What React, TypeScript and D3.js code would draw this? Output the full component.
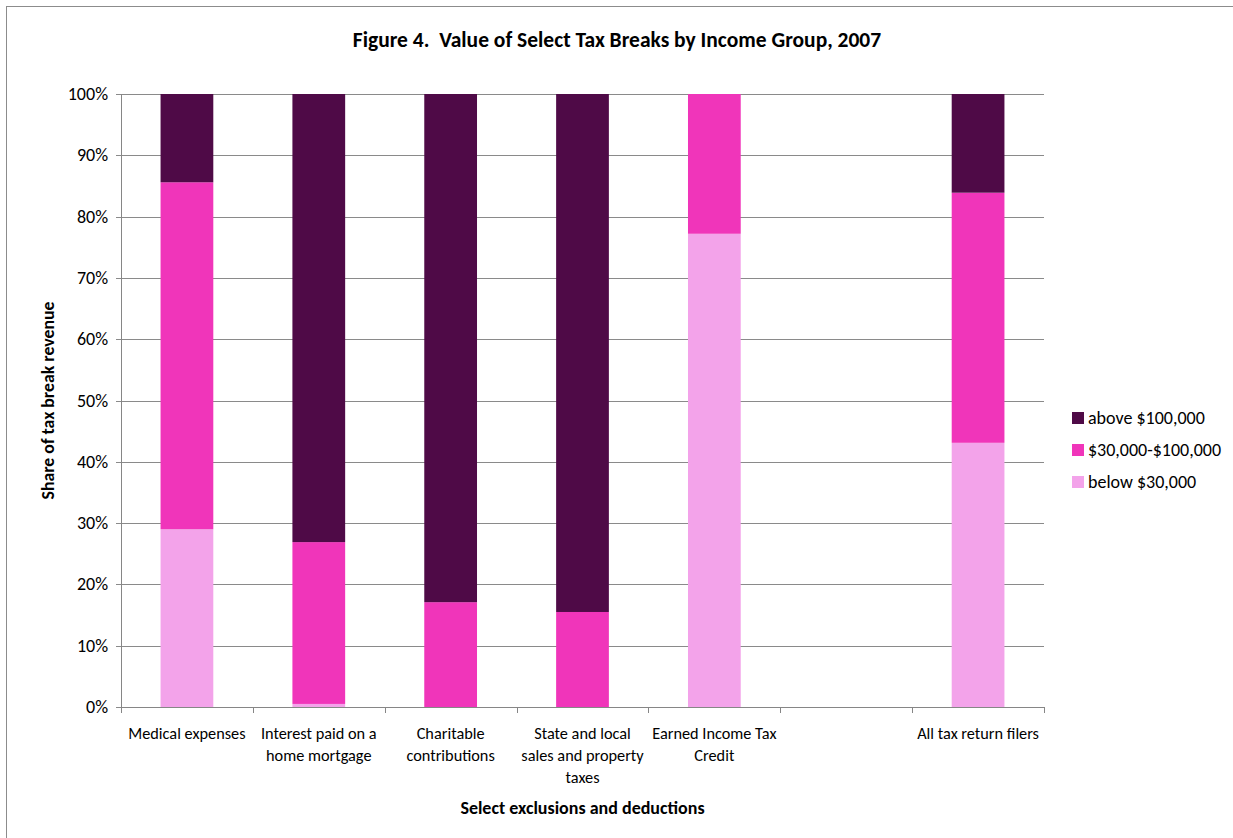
import React from "react";
import * as d3 from "d3";

const categories = [
  "Medical expenses",
  "Interest paid on a home mortgage",
  "Charitable contributions",
  "State and local sales and property taxes",
  "Earned Income Tax Credit",
  "",
  "All tax return filers",
];
const categoryLines = [
  ["Medical expenses"],
  ["Interest paid on a", "home mortgage"],
  ["Charitable", "contributions"],
  ["State and local", "sales and property", "taxes"],
  ["Earned Income Tax", "Credit"],
  [],
  ["All tax return filers"],
];
const below30k = [29.0, 0.5, 0, 0, 77.2, 0, 43.1];
const mid30to100k = [56.6, 26.4, 17.1, 15.5, 22.8, 0, 40.8];
const above100k = [14.4, 73.1, 82.9, 84.5, 0, 0, 16.1];
const seriesNames = ["below $30,000", "$30,000-$100,000", "above $100,000"];
const seriesColors = ["#F3A3EA", "#F035BA", "#4F0A47"];
const yTicks = [0, 10, 20, 30, 40, 50, 60, 70, 80, 90, 100];

const W = 1233;
const H = 838;
const left = 121;
const right = 1044;
const top = 94;
const bottom = 707;
const FONT = "Carlito, Calibri, 'Open Sans', sans-serif";

export default function App() {
  const keys = categories.map((_, i) => "c" + i);
  const x = d3.scaleBand<string>().domain(keys).range([left, right]).paddingInner(0.6).paddingOuter(0.3);
  const y = d3.scaleLinear().domain([0, 100]).range([bottom, top]);
  const rows = categories.map((c, i) => ({ key: keys[i], b: below30k[i], m: mid30to100k[i], a: above100k[i] }));
  const stack = d3.stack<any>().keys(["b", "m", "a"])(rows);
  const step = x.step();
  const legendItems = [
    { name: seriesNames[2], color: seriesColors[2] },
    { name: seriesNames[1], color: seriesColors[1] },
    { name: seriesNames[0], color: seriesColors[0] },
  ];
  return (
    <svg width={W} height={H} style={{ position: "absolute", left: 0, top: 0, display: "block" }} fontFamily={FONT}>
      <rect x={0} y={0} width={W} height={H} fill="#fff" />
      <rect x={6.5} y={6.5} width={W + 20} height={H + 20} fill="none" stroke="#8c8c8c" strokeWidth={1} />
      <text x={617} y={47} textAnchor="middle" fontWeight="bold" fontSize={21.5} fill="#000">
        Figure 4.{"\u00a0\u00a0"}Value of Select Tax Breaks by Income Group, 2007
      </text>
      {yTicks.map((t) => (
        <g key={t}>
          <line x1={left - 5} x2={right} y1={Math.round(y(t)) + 0.5} y2={Math.round(y(t)) + 0.5} stroke="#8a8a8a" strokeWidth={1} />
          <text x={108} y={y(t) + 6} textAnchor="end" fontSize={18} fill="#000">{t}%</text>
        </g>
      ))}
      {stack.map((s, si) => (
        <g key={si} fill={seriesColors[si]}>
          {s.map((d: any, i: number) =>
            d[1] - d[0] > 0 ? (
              <rect key={i} x={x(keys[i])} width={x.bandwidth()} y={y(d[1])} height={y(d[0]) - y(d[1])} />
            ) : null
          )}
        </g>
      ))}
      <line x1={left + 0.5} x2={left + 0.5} y1={top} y2={bottom} stroke="#868686" />
      <line x1={left} x2={right} y1={bottom + 0.5} y2={bottom + 0.5} stroke="#868686" />
      {d3.range(categories.length + 1).map((i) => (
        <line key={i} x1={Math.round(left + i * step) + 0.5} x2={Math.round(left + i * step) + 0.5} y1={bottom} y2={bottom + 6} stroke="#868686" />
      ))}
      {categoryLines.map((lines, i) => (
        <text key={i} textAnchor="middle" fontSize={16.3} fill="#000">
          {lines.map((l, j) => (
            <tspan key={j} x={(x(keys[i]) as number) + x.bandwidth() / 2} y={739 + j * 22}>{l}</tspan>
          ))}
        </text>
      ))}
      <text x={(left + right) / 2} y={814} textAnchor="middle" fontWeight="bold" fontSize={18} fill="#000">
        Select exclusions and deductions
      </text>
      <text transform={`translate(54,${(top + bottom) / 2}) rotate(-90)`} textAnchor="middle" fontWeight="bold" fontSize={17.8} fill="#000">
        Share of tax break revenue
      </text>
      {legendItems.map((it, i) => (
        <g key={i}>
          <rect x={1072} y={412 + i * 32} width={12} height={12} fill={it.color} />
          <text x={1088} y={423.5 + i * 32} fontSize={18} fill="#000">{it.name}</text>
        </g>
      ))}
    </svg>
  );
}
